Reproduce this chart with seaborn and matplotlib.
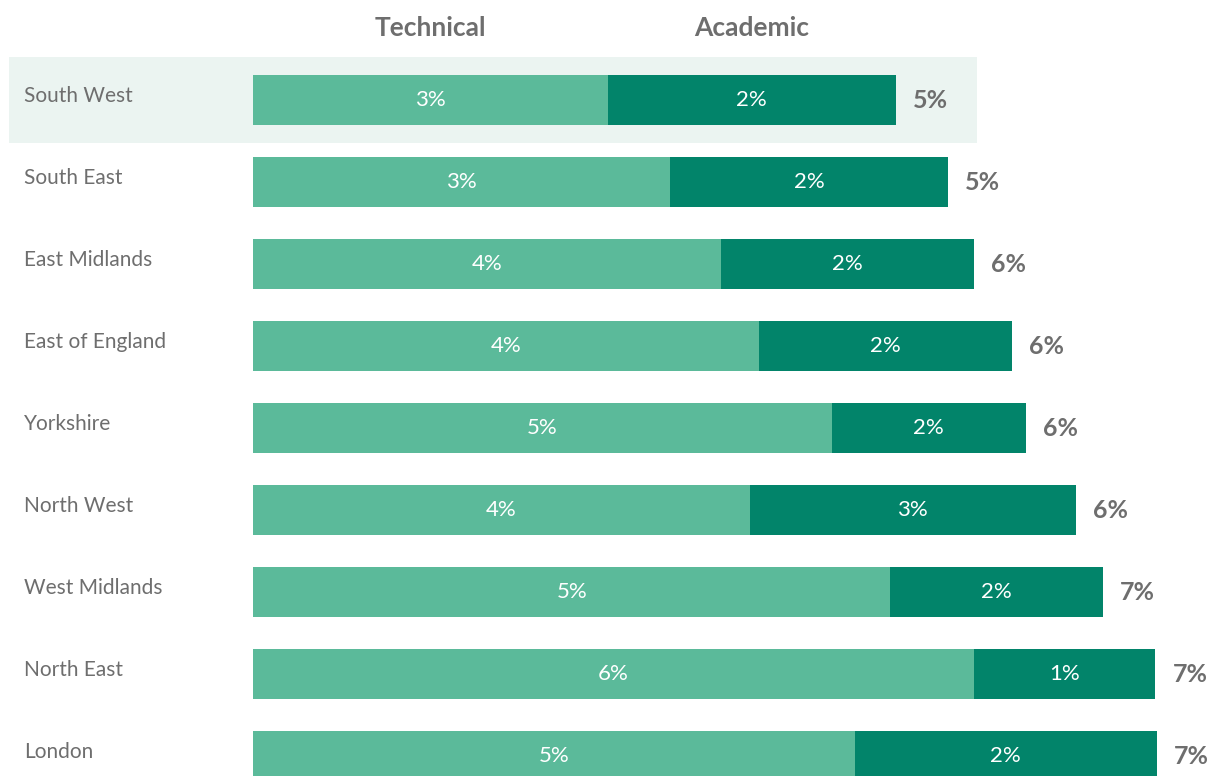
import matplotlib
matplotlib.use("Agg")
import matplotlib.pyplot as plt
import matplotlib.transforms as mtransforms
import seaborn as sns
import pandas as pd
import numpy as np

# Share of students by route, per region (%)
regions = ["South West", "South East", "East Midlands", "East of England",
           "Yorkshire", "North West", "West Midlands", "North East", "London"]
technical = [2.77, 3.26, 3.66, 3.95, 4.52, 3.88, 4.98, 5.63, 4.70]
academic = [2.25, 2.17, 1.97, 1.98, 1.52, 2.55, 1.66, 1.42, 2.36]
series_names = ["Technical", "Academic"]

LIGHT = "#5BBA9A"
DARK = "#02846A"
HIGHLIGHT = "#EBF4F1"
GREY = "#6E6E6E"

df = pd.DataFrame({"region": regions, "technical": technical, "academic": academic})
df["total"] = df["technical"] + df["academic"]

sns.set_theme(style="white")
plt.rcParams["font.family"] = ["Lato", "DejaVu Sans"]

W, H, DPI = 1216, 776, 100
fig = plt.figure(figsize=(W / DPI, H / DPI), dpi=DPI)
ax = fig.add_axes([0, 0, 1, 1])

# Stacked bars: full total in dark, technical share drawn over it in light
bar_h = 0.61
sns.barplot(data=df, y="region", x="total", orient="h", color=DARK,
            saturation=1, width=bar_h, linewidth=0, ax=ax, zorder=2)
sns.barplot(data=df, y="region", x="technical", orient="h", color=LIGHT,
            saturation=1, width=bar_h, linewidth=0, ax=ax, zorder=3)

# Axis mapping: bars start 253px in, 128px per percentage point, rows 82px apart
px_per_unit = 128.0
x0_px = 253.0
ax.set_xlim(-x0_px / px_per_unit, (W - x0_px) / px_per_unit)
row_px, first_row_px = 82.0, 100.0
ax.set_ylim((H - first_row_px) / row_px, -first_row_px / row_px)
ax.set_axis_off()

# Highlighted first row band
band = plt.Rectangle((9 / W, -0.525), (977 - 9) / W, 1.05,
                     transform=mtransforms.blended_transform_factory(ax.transAxes, ax.transData),
                     facecolor=HIGHLIGHT, edgecolor="none", zorder=0)
ax.add_patch(band)

label_tr = mtransforms.blended_transform_factory(ax.transAxes, ax.transData)
offset = mtransforms.offset_copy(ax.transData, fig=fig, x=17, y=0, units="dots")

for i, row in df.iterrows():
    ax.text(24 / W, i - 0.05, row["region"], transform=label_tr, ha="left", va="center",
            fontsize=15, color=GREY, fontweight="normal")
    ax.text(row["technical"] / 2, i, f"{row['technical']:.0f}%", ha="center", va="center",
            fontsize=16, color="white", fontweight="normal", zorder=4)
    ax.text(row["technical"] + row["academic"] / 2, i, f"{row['academic']:.0f}%",
            ha="center", va="center", fontsize=16, color="white", fontweight="normal", zorder=4)
    ax.text(row["total"], i, f"{row['total']:.0f}%", transform=offset, ha="left", va="center",
            fontsize=18, color=GREY, fontweight="bold")

# Series headers centred over the first row's segments
head_y = -first_row_px / row_px + 28 / row_px
ax.text(df.loc[0, "technical"] / 2, head_y, series_names[0], ha="center", va="center",
        fontsize=19, color=GREY, fontweight="bold")
ax.text(df.loc[0, "technical"] + df.loc[0, "academic"] / 2, head_y, series_names[1],
        ha="center", va="center", fontsize=19, color=GREY, fontweight="bold")

fig.savefig("out.png", dpi=DPI, facecolor="white")
